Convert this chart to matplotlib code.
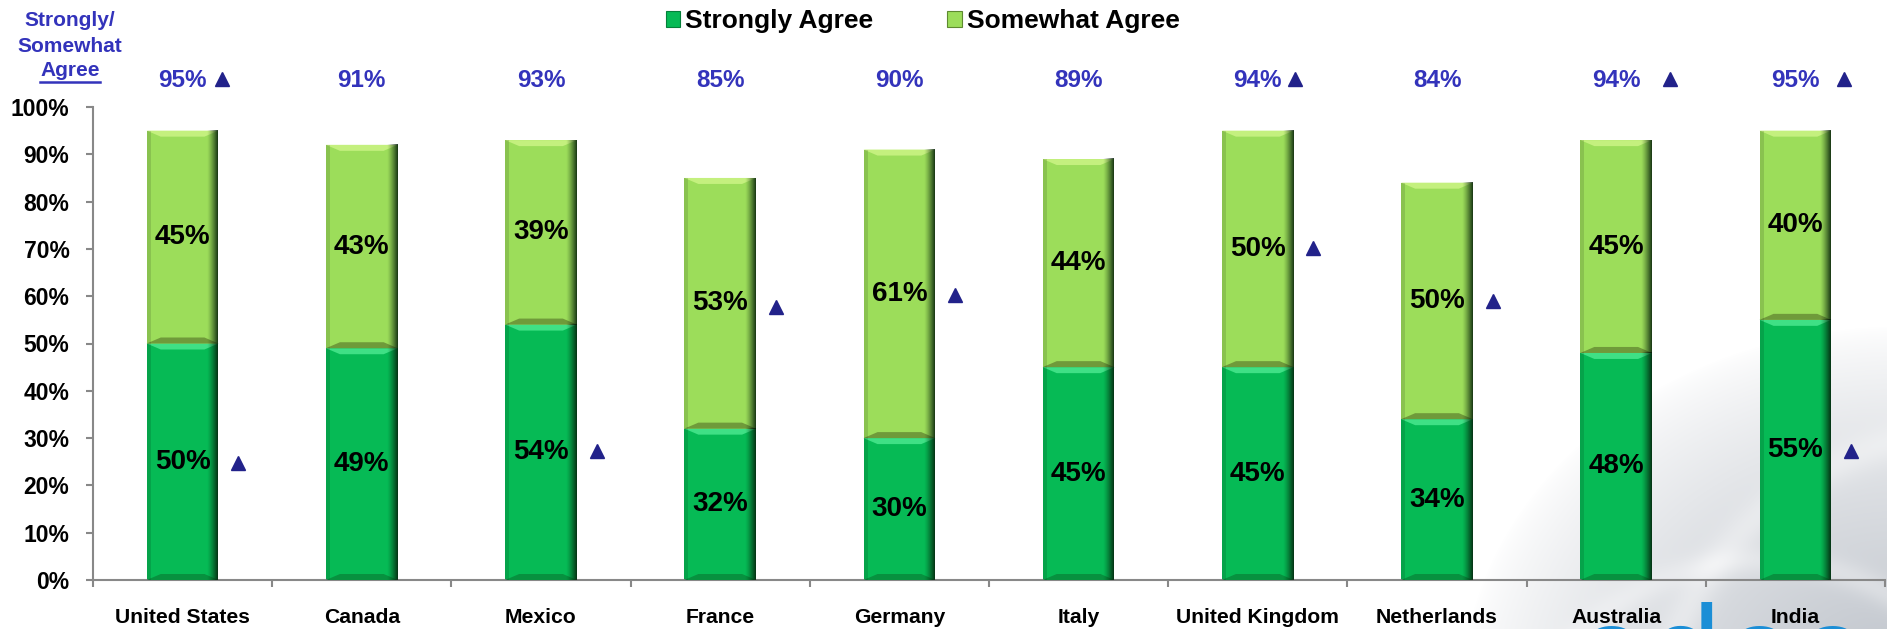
import numpy as np
import matplotlib.pyplot as plt
from matplotlib.patches import Polygon, Patch, Rectangle

plt.rcParams['font.family'] = ['Liberation Sans', 'DejaVu Sans']
plt.rcParams['font.weight'] = 'bold'

countries = ['United States', 'Canada', 'Mexico', 'France', 'Germany',
             'Italy', 'United Kingdom', 'Netherlands', 'Australia', 'India']
strongly = [50, 49, 54, 32, 30, 45, 45, 34, 48, 55]
somewhat = [45, 43, 39, 53, 61, 44, 50, 50, 45, 40]
totals = [95, 91, 93, 85, 90, 89, 94, 84, 94, 95]
# change arrows: level beside the bar (None = none) and next to the total
mid_arrow = [24.7, None, 27.2, 57.8, 60.3, None, 70.2, 59.0, None, 27.2]
top_arrow = [True, False, False, False, False, False, True, False, True, True]
top_arrow_dx = [0.22, 0, 0, 0, 0, 0, 0.21, 0, 0.30, 0.27]

GREEN = '#06BA55'
GREEN_LT = '#3FE085'
GREEN_DK = '#07913F'
LIME = '#9CDD5A'
LIME_LT = '#C4F07E'
LIME_DK = '#6F9A3A'
BLUE_TXT = '#3333BB'
NAVY = '#22228A'

W, H = 1887, 629
fig = plt.figure(figsize=(W / 100, H / 100), dpi=100)

# grey swirl backdrop in the lower right corner
bg = fig.add_axes([0, 0, 1, 1], zorder=-5)
yy, xx = np.mgrid[0:H, 0:W]
d = np.hypot(xx - 1900, (yy - 700) / 0.85)
t = np.clip(1 - d / 440, 0, 1) ** 0.75
ring = np.exp(-((np.hypot(xx - 1980, yy - 760) - 330) / 18) ** 2) * 0.35
ring += np.exp(-((np.hypot(xx - 1760, yy - 820) - 260) / 14) ** 2) * 0.3
t = np.clip(t * (1 - ring), 0, 1)
img = np.ones((H, W, 3))
grey = np.array([0.74, 0.76, 0.79])
img = img * (1 - t[..., None]) + grey * t[..., None]
bg.imshow(img, extent=[0, W, H, 0], aspect='auto', interpolation='bilinear')
bg.set_xlim(0, W)
bg.set_ylim(H, 0)
bg.axis('off')
fig.text(1574 / W, 1 - 693 / H, 'odoo', color='#1B8ED6', fontsize=86,
         fontweight='normal', family='DejaVu Sans', va='baseline', zorder=-4)

ax = fig.add_axes([93 / W, 1 - 580 / H, 1792 / W, 473 / H], zorder=1)
ax.patch.set_visible(False)

x = np.arange(len(countries))
bw = 0.4
b1 = ax.bar(x, strongly, bw, color=GREEN, zorder=2)
b2 = ax.bar(x, somewhat, bw, bottom=strongly, color=LIME, zorder=2)

px = 10 / 1792
py = 100 / 473


def bevel(rect, light, dark):
    x0, y0 = rect.get_x(), rect.get_y()
    w, h = rect.get_width(), rect.get_height()
    ix, iy = 14 * px, 6 * py
    ax.add_patch(Polygon([(x0, y0 + h), (x0 + w, y0 + h), (x0 + w - ix, y0 + h - iy),
                          (x0 + ix, y0 + h - iy)], color=light, lw=0, zorder=3))
    ax.add_patch(Polygon([(x0, y0), (x0 + w, y0), (x0 + w - ix, y0 + iy),
                          (x0 + ix, y0 + iy)], color=dark, lw=0, zorder=3))
    ax.add_patch(Rectangle((x0, y0), 4 * px, h, color='black', alpha=0.12,
                           lw=0, zorder=3))
    shade = np.zeros((1, 32, 4))
    shade[0, :, 0] = 0.02
    shade[0, :, 1] = 0.12
    shade[0, :, 2] = 0.04
    shade[0, :, 3] = np.linspace(0, 0.9, 32) ** 1.3
    ax.imshow(shade, extent=[x0 + w - 11 * px, x0 + w, y0, y0 + h],
              aspect='auto', interpolation='bilinear', zorder=4)


for r in b1:
    bevel(r, GREEN_LT, GREEN_DK)
for r in b2:
    bevel(r, LIME_LT, LIME_DK)

for i in range(len(countries)):
    ax.text(x[i], strongly[i] / 2, f'{strongly[i]}%', ha='center', va='center',
            fontsize=20, fontweight='bold', color='black', zorder=5)
    ax.text(x[i], strongly[i] + somewhat[i] / 2, f'{somewhat[i]}%', ha='center',
            va='center', fontsize=20, fontweight='bold', color='black', zorder=5)
    ax.text(x[i], 105.6, f'{totals[i]}%', ha='center', va='center', fontsize=17.5,
            fontweight='bold', color=BLUE_TXT, clip_on=False, zorder=5)
    if mid_arrow[i] is not None:
        ax.plot(x[i] + 0.31, mid_arrow[i], marker='^', ms=10, color=NAVY,
                clip_on=False, zorder=5)
    if top_arrow[i]:
        ax.plot(x[i] + top_arrow_dx[i], 106.0, marker='^', ms=10, color=NAVY,
                clip_on=False, zorder=6)

ax.set_xlim(-0.5, len(countries) - 0.5)
ax.set_ylim(0, 100)
ax.set_yticks(np.arange(0, 101, 10))
ax.set_yticklabels([f'{v}%' for v in range(0, 101, 10)], fontsize=16.5,
                   fontweight='bold')
ax.set_xticks(np.arange(-0.5, len(countries), 1))
ax.set_xticklabels([])
ax.set_xticks(x, minor=True)
ax.set_xticklabels(countries, minor=True, fontsize=15.2, fontweight='bold')
ax.tick_params(axis='x', which='major', length=5, color='#888888', width=1.5)
ax.tick_params(axis='x', which='minor', length=0, pad=20)
ax.tick_params(axis='y', length=5, color='#888888', width=1.5, pad=12)
for s in ['top', 'right']:
    ax.spines[s].set_visible(False)
for s in ['left', 'bottom']:
    ax.spines[s].set_color('#888888')
    ax.spines[s].set_linewidth(1.5)

# axis caption over the y ticks
for txt, yp in [('Strongly/', 20), ('Somewhat', 46), ('Agree', 71)]:
    fig.text(70 / W, 1 - yp / H, txt, ha='center', va='center', fontsize=15,
             fontweight='bold', color=BLUE_TXT)
fig.add_artist(plt.Line2D([40 / W, 100 / W], [1 - 82 / H, 1 - 82 / H],
                          color=BLUE_TXT, lw=1.8))

handles = [Patch(facecolor=GREEN, edgecolor='#05803A', lw=0.8, label='Strongly Agree'),
           Patch(facecolor=LIME, edgecolor='#5E8A30', lw=0.8, label='Somewhat Agree')]
fig.legend(handles=handles, loc='center', bbox_to_anchor=(0.489, 0.966), ncol=2,
           frameon=False, prop={'size': 19, 'weight': 'bold'}, handlelength=0.55,
           handleheight=0.55, handletextpad=0.2, columnspacing=2.8)

fig.savefig('out.png', dpi=100)
